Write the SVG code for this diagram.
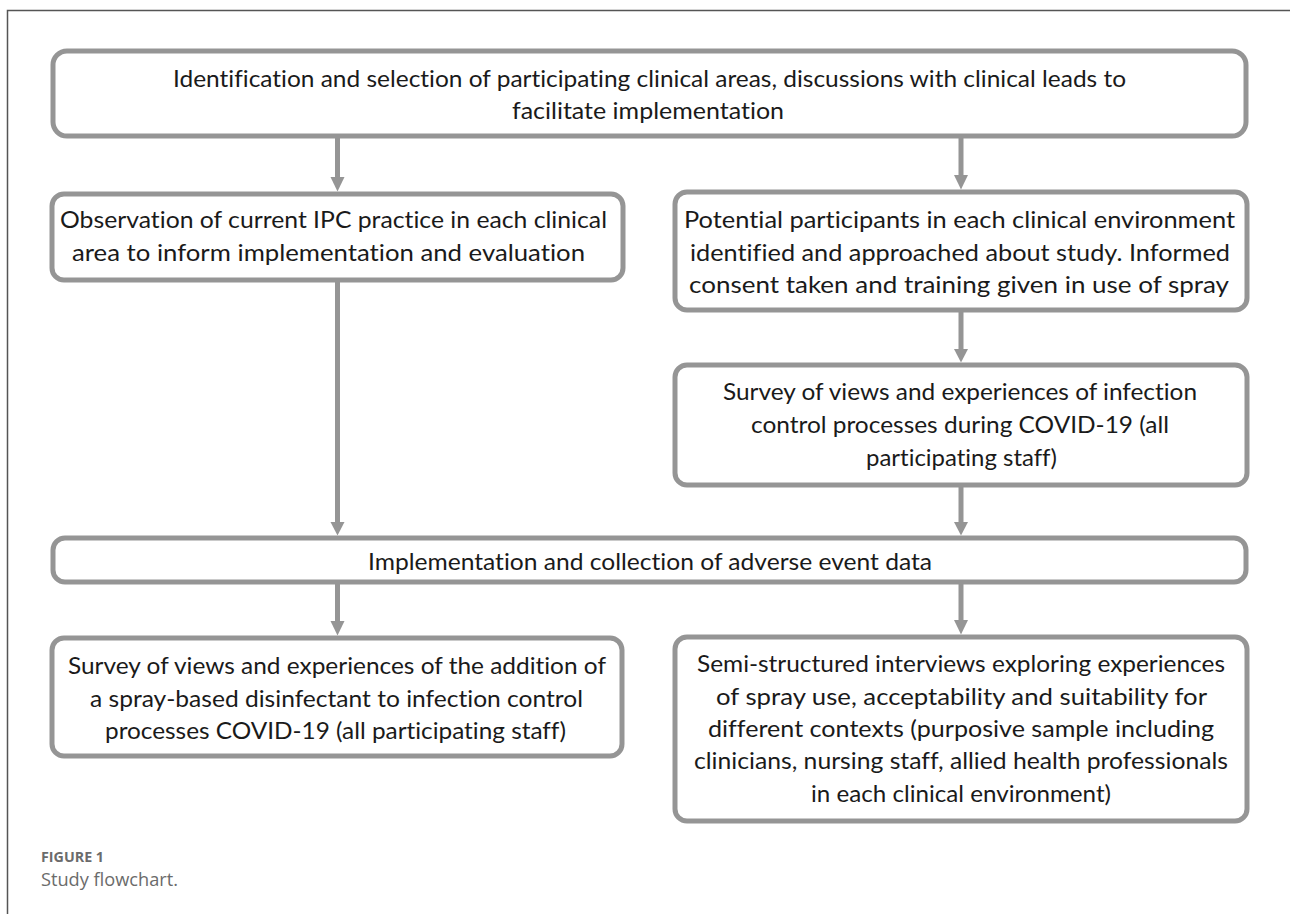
<svg xmlns="http://www.w3.org/2000/svg" width="1290" height="914" viewBox="0 0 1290 914">
<style>
.box{fill:#fff;stroke:#959595;stroke-width:5}
.t{font-family:Lato,"Liberation Sans",sans-serif;font-size:23px;fill:#1a1a1a;text-anchor:middle;font-variant-ligatures:none}
.c{stroke:#959595;stroke-width:5;fill:none}
.ah{fill:#959595}
.cap{font-family:"Open Sans","Liberation Sans",sans-serif;fill:#6b6b6b}
</style>
<rect width="1290" height="914" fill="#fff"/>
<path d="M1290,10.5 H7.5 V914" fill="none" stroke="#555" stroke-width="1.5"/>
<g id="connectors">
<path class="c" d="M337.5,138 V178"/><path class="ah" d="M330.5,177 H344.5 L337.5,191.5 Z"/>
<path class="c" d="M961,138 V176"/><path class="ah" d="M954,175 H968 L961,189.5 Z"/>
<path class="c" d="M961,312 V350"/><path class="ah" d="M954,349 H968 L961,362.5 Z"/>
<path class="c" d="M961,487 V523"/><path class="ah" d="M954,522 H968 L961,535.5 Z"/>
<path class="c" d="M337.5,282 V523"/><path class="ah" d="M330.5,522 H344.5 L337.5,535.5 Z"/>
<path class="c" d="M337.5,584 V622"/><path class="ah" d="M330.5,621 H344.5 L337.5,635.5 Z"/>
<path class="c" d="M961,584 V621"/><path class="ah" d="M954,620 H968 L961,634.5 Z"/>
</g>
<g id="n1">
<rect class="box" x="53" y="51" width="1193" height="85" rx="14"/>
<text class="t" x="649.5" y="87" textLength="953" lengthAdjust="spacingAndGlyphs">Identification and selection of participating clinical areas, discussions with clinical leads to</text>
<text class="t" x="648" y="119" textLength="272" lengthAdjust="spacingAndGlyphs">facilitate implementation</text>
</g>
<g id="n2">
<rect class="box" x="52" y="194" width="571" height="86" rx="12"/>
<text class="t" x="333.5" y="228" textLength="547" lengthAdjust="spacingAndGlyphs">Observation of current IPC practice in each clinical</text>
<text class="t" x="328.5" y="261" textLength="513" lengthAdjust="spacingAndGlyphs">area to inform implementation and evaluation</text>
</g>
<g id="n3">
<rect class="box" x="675" y="192" width="572" height="118" rx="12"/>
<text class="t" x="959.5" y="228" textLength="551" lengthAdjust="spacingAndGlyphs">Potential participants in each clinical environment</text>
<text class="t" x="960" y="261" textLength="540" lengthAdjust="spacingAndGlyphs">identified and approached about study. Informed</text>
<text class="t" x="959" y="293" textLength="540" lengthAdjust="spacingAndGlyphs">consent taken and training given in use of spray</text>
</g>
<g id="n4">
<rect class="box" x="675" y="365" width="572" height="120" rx="12"/>
<text class="t" x="960" y="400" textLength="474" lengthAdjust="spacingAndGlyphs">Survey of views and experiences of infection</text>
<text class="t" x="960" y="433" textLength="418" lengthAdjust="spacingAndGlyphs">control processes during COVID-19 (all</text>
<text class="t" x="961.5" y="466" textLength="191" lengthAdjust="spacingAndGlyphs">participating staff)</text>
</g>
<g id="n5">
<rect class="box" x="53" y="538" width="1193" height="44" rx="12"/>
<text class="t" x="650" y="570" textLength="564" lengthAdjust="spacingAndGlyphs">Implementation and collection of adverse event data</text>
</g>
<g id="n6">
<rect class="box" x="52" y="638" width="570" height="118" rx="12"/>
<text class="t" x="337" y="674" textLength="538" lengthAdjust="spacingAndGlyphs">Survey of views and experiences of the addition of</text>
<text class="t" x="336.5" y="707" textLength="493" lengthAdjust="spacingAndGlyphs">a spray-based disinfectant to infection control</text>
<text class="t" x="335.5" y="739" textLength="461" lengthAdjust="spacingAndGlyphs">processes COVID-19 (all participating staff)</text>
</g>
<g id="n7">
<rect class="box" x="675" y="637" width="572" height="184" rx="12"/>
<text class="t" x="961" y="672" textLength="528" lengthAdjust="spacingAndGlyphs">Semi-structured interviews exploring experiences</text>
<text class="t" x="961.5" y="705" textLength="491" lengthAdjust="spacingAndGlyphs">of spray use, acceptability and suitability for</text>
<text class="t" x="961" y="737" textLength="506" lengthAdjust="spacingAndGlyphs">different contexts (purposive sample including</text>
<text class="t" x="961" y="769" textLength="534" lengthAdjust="spacingAndGlyphs">clinicians, nursing staff, allied health professionals</text>
<text class="t" x="961" y="802" textLength="300" lengthAdjust="spacingAndGlyphs">in each clinical environment)</text>
</g>
<text class="cap" x="41" y="862" font-size="14" font-weight="bold" textLength="63" lengthAdjust="spacingAndGlyphs">FIGURE 1</text>
<text class="cap" x="41" y="886" font-size="18" textLength="137" lengthAdjust="spacingAndGlyphs">Study flowchart.</text>
</svg>
